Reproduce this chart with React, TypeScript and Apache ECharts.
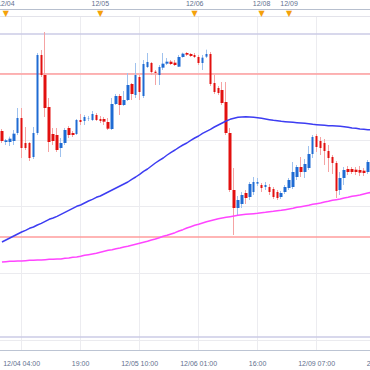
import React, { useEffect, useRef } from 'react';
import * as echarts from 'echarts';

// Trading sessions shown on the chart (hourly candles)
const sessions = [
  { date: '12/03', from: 23, to: 23 },
  { date: '12/04', from: 0, to: 23 },
  { date: '12/05', from: 0, to: 23 },
  { date: '12/06', from: 0, to: 16 },
  { date: '12/08', from: 17, to: 23 },
  { date: '12/09', from: 0, to: 22 },
];

const open = [
  102.627, 102.594, 102.594, 102.597, 102.621, 102.666, 102.591, 102.591, 102.549, 102.621,
  102.855, 102.795, 102.699, 102.618, 102.615, 102.576, 102.591, 102.636, 102.621, 102.618,
  102.660, 102.657, 102.663, 102.660, 102.675, 102.663, 102.663, 102.654, 102.633, 102.708,
  102.732, 102.705, 102.720, 102.768, 102.735, 102.789, 102.732, 102.819, 102.831, 102.805,
  102.795, 102.817, 102.829, 102.835, 102.832, 102.820, 102.849, 102.861, 102.858, 102.855,
  102.849, 102.831, 102.850, 102.858, 102.771, 102.756, 102.750, 102.714, 102.621, 102.450,
  102.396, 102.408, 102.441, 102.429, 102.444, 102.469, 102.465, 102.459, 102.459, 102.453,
  102.444, 102.429, 102.444, 102.456, 102.459, 102.489, 102.519, 102.504, 102.516, 102.558,
  102.612, 102.597, 102.591, 102.567, 102.549, 102.531, 102.450, 102.486, 102.513, 102.513,
  102.511, 102.510, 102.508, 102.504, 102.534, 102.546,
];
const close = [
  102.597, 102.599, 102.604, 102.619, 102.666, 102.576, 102.576, 102.546, 102.621, 102.855,
  102.795, 102.696, 102.594, 102.597, 102.570, 102.591, 102.630, 102.615, 102.615, 102.660,
  102.654, 102.669, 102.664, 102.678, 102.660, 102.657, 102.655, 102.634, 102.708, 102.732,
  102.705, 102.720, 102.765, 102.738, 102.795, 102.744, 102.828, 102.834, 102.804, 102.801,
  102.819, 102.829, 102.835, 102.828, 102.825, 102.849, 102.859, 102.856, 102.852, 102.849,
  102.831, 102.847, 102.858, 102.768, 102.744, 102.741, 102.711, 102.621, 102.450, 102.396,
  102.420, 102.435, 102.426, 102.468, 102.474, 102.474, 102.456, 102.465, 102.444, 102.429,
  102.426, 102.441, 102.459, 102.480, 102.504, 102.519, 102.504, 102.528, 102.558, 102.609,
  102.579, 102.576, 102.567, 102.546, 102.531, 102.447, 102.486, 102.510, 102.504, 102.504,
  102.504, 102.502, 102.501, 102.534, 102.546, 102.540,
];
const low = [
  102.591, 102.585, 102.582, 102.585, 102.615, 102.546, 102.570, 102.537, 102.543, 102.615,
  102.789, 102.669, 102.564, 102.585, 102.564, 102.549, 102.585, 102.606, 102.609, 102.615,
  102.645, 102.645, 102.657, 102.657, 102.657, 102.651, 102.645, 102.630, 102.630, 102.705,
  102.675, 102.702, 102.717, 102.720, 102.726, 102.720, 102.726, 102.816, 102.795, 102.765,
  102.765, 102.810, 102.825, 102.825, 102.822, 102.819, 102.847, 102.852, 102.849, 102.846,
  102.825, 102.810, 102.846, 102.762, 102.738, 102.735, 102.705, 102.615, 102.444, 102.315,
  102.372, 102.396, 102.408, 102.420, 102.435, 102.462, 102.444, 102.450, 102.435, 102.423,
  102.420, 102.423, 102.438, 102.450, 102.453, 102.480, 102.489, 102.486, 102.510, 102.546,
  102.564, 102.555, 102.525, 102.504, 102.498, 102.426, 102.435, 102.465, 102.495, 102.498,
  102.495, 102.492, 102.492, 102.498, 102.525, 102.531,
];
const high = [
  102.633, 102.603, 102.610, 102.630, 102.696, 102.696, 102.639, 102.594, 102.639, 102.861,
  102.870, 102.924, 102.726, 102.636, 102.636, 102.606, 102.636, 102.642, 102.627, 102.663,
  102.678, 102.675, 102.672, 102.687, 102.681, 102.672, 102.669, 102.666, 102.726, 102.738,
  102.738, 102.747, 102.801, 102.771, 102.831, 102.795, 102.840, 102.861, 102.834, 102.810,
  102.825, 102.861, 102.846, 102.840, 102.840, 102.855, 102.862, 102.864, 102.861, 102.861,
  102.855, 102.855, 102.871, 102.864, 102.795, 102.762, 102.774, 102.774, 102.636, 102.516,
  102.432, 102.444, 102.450, 102.474, 102.489, 102.486, 102.471, 102.474, 102.468, 102.459,
  102.450, 102.447, 102.465, 102.486, 102.534, 102.525, 102.549, 102.543, 102.582, 102.615,
  102.618, 102.609, 102.603, 102.585, 102.555, 102.537, 102.504, 102.519, 102.522, 102.519,
  102.519, 102.522, 102.516, 102.540, 102.555, 102.558,
];

const maBlue = [
  102.294, 102.300, 102.306, 102.312, 102.318, 102.324, 102.329, 102.335, 102.339, 102.345,
  102.350, 102.356, 102.362, 102.366, 102.371, 102.377, 102.383, 102.389, 102.395, 102.401,
  102.405, 102.411, 102.417, 102.422, 102.428, 102.432, 102.438, 102.444, 102.450, 102.456,
  102.462, 102.468, 102.474, 102.482, 102.489, 102.497, 102.506, 102.513, 102.522, 102.531,
  102.539, 102.546, 102.555, 102.563, 102.570, 102.578, 102.585, 102.591, 102.599, 102.606,
  102.612, 102.620, 102.626, 102.632, 102.639, 102.645, 102.651, 102.657, 102.662, 102.665,
  102.668, 102.669, 102.670, 102.669, 102.668, 102.667, 102.665, 102.663, 102.661, 102.659,
  102.658, 102.656, 102.655, 102.654, 102.653, 102.652, 102.651, 102.650, 102.649, 102.647,
  102.646, 102.645, 102.644, 102.643, 102.643, 102.642, 102.641, 102.640, 102.638, 102.636,
  102.635, 102.633, 102.632, 102.631, 102.630, 102.629,
];
const maMagenta = [
  102.234, 102.235, 102.236, 102.236, 102.237, 102.237, 102.238, 102.239, 102.239, 102.240,
  102.240, 102.241, 102.242, 102.242, 102.243, 102.243, 102.245, 102.246, 102.248, 102.249,
  102.251, 102.254, 102.256, 102.258, 102.260, 102.263, 102.266, 102.269, 102.271, 102.274,
  102.276, 102.279, 102.281, 102.284, 102.287, 102.290, 102.293, 102.296, 102.300, 102.303,
  102.307, 102.311, 102.314, 102.318, 102.322, 102.327, 102.331, 102.336, 102.340, 102.344,
  102.347, 102.351, 102.355, 102.358, 102.361, 102.364, 102.366, 102.368, 102.370, 102.372,
  102.374, 102.376, 102.377, 102.378, 102.379, 102.380, 102.382, 102.383, 102.385, 102.386,
  102.388, 102.389, 102.391, 102.393, 102.395, 102.398, 102.400, 102.402, 102.404, 102.407,
  102.409, 102.411, 102.414, 102.416, 102.419, 102.421, 102.423, 102.426, 102.428, 102.431,
  102.433, 102.435, 102.438, 102.441, 102.443, 102.446,
];

const gridLevels = [102.0, 102.2, 102.4, 102.6, 102.8];
const rangeLevels = [102.924, 102.014];
const redLevels = [102.797, 102.315];

const Y_MIN = 101.97;
const Y_MAX = 102.972;
const LABEL_START = 5;
const LABEL_STEP = 15;

const categories: string[] = [];
sessions.forEach((s) => {
  for (let h = s.from; h <= s.to; h++) {
    categories.push(`${s.date} ${String(h).padStart(2, '0')}:00`);
  }
});
const dateOf = (i: number) => categories[i].split(' ')[0];
const isMajor = (i: number) => i >= LABEL_START && (i - LABEL_START) % LABEL_STEP === 0;
const isMinor = (i: number) => ((((i - LABEL_START) % LABEL_STEP) + LABEL_STEP) % LABEL_STEP) % 2 === 0;
const isDayStart = (i: number) => i > 0 && dateOf(i) !== dateOf(i - 1);
const sinceDay: number[] = [];
categories.forEach((_, i) => {
  sinceDay.push(i === 0 ? 1 : isDayStart(i) ? 0 : sinceDay[i - 1] + 1);
});
const isTopTick = (i: number) => sinceDay[i] % 3 === 0;

const bottomLabels: Record<number, string> = {};
let prevDate = '';
categories.forEach((c, i) => {
  if (isMajor(i)) {
    const [d, t] = c.split(' ');
    bottomLabels[i] = d !== prevDate ? c : t;
    prevDate = d;
  }
});

const UP = '#1f6bd3';
const DOWN = '#e2100f';
const WICK_UP = '#9fc2ee';
const WICK_DOWN = '#f5a3a3';
const TEXT = '#62708e';
const FONT = 'Liberation Sans';

export default function App() {
  const ref = useRef<HTMLDivElement>(null);
  useEffect(() => {
    if (!ref.current) return;
    const chart = echarts.init(ref.current, null, { renderer: 'svg' });
    const wickData = categories.map((_, i) => [open[i], close[i], low[i], high[i]]);
    const bodyData = categories.map((_, i) => [
      open[i], close[i], Math.min(open[i], close[i]), Math.max(open[i], close[i]),
    ]);
    const gridGeom = { left: 0, top: 16, width: 377.6, height: 334, outerBoundsMode: 'none' };
    const yAx = (gi: number) => ({
      type: 'value', gridIndex: gi, min: Y_MIN, max: Y_MAX, show: false, splitLine: { show: false },
    });
    const baseX = { type: 'category', data: categories, boundaryGap: true };
    const option: any = {
      animation: false,
      textStyle: { fontFamily: FONT },
      grid: [gridGeom, gridGeom, gridGeom],
      xAxis: [
        {
          ...baseX, gridIndex: 0, position: 'bottom',
          axisLine: { lineStyle: { color: '#bcc4d3', width: 1 } },
          axisTick: { interval: isMajor, length: 6, alignWithLabel: true, lineStyle: { color: '#aab2c4' } },
          axisLabel: {
            interval: isMajor, formatter: (_v: string, i: number) => bottomLabels[i] ?? '',
            fontSize: 7, color: TEXT, margin: 10, fontFamily: FONT,
          },
          splitLine: { show: true, interval: isMajor, alignWithLabel: true, lineStyle: { color: '#ececf0', width: 1 } },
        },
        {
          ...baseX, gridIndex: 0, position: 'top',
          axisLine: { lineStyle: { color: '#e3e3ea', width: 1 } },
          axisTick: { show: false }, axisLabel: { show: false },
        },
        {
          ...baseX, gridIndex: 1, position: 'bottom',
          axisLine: { show: false },
          axisTick: { interval: isMinor, length: 3, alignWithLabel: true, lineStyle: { color: '#aab2c4' } },
          axisLabel: { show: false },
        },
        {
          ...baseX, gridIndex: 1, position: 'top', offset: 7,
          axisLine: { lineStyle: { color: '#b7bfce', width: 1 } },
          axisTick: { interval: isTopTick, inside: true, length: 3, alignWithLabel: true, lineStyle: { color: '#aab2c4' } },
          axisLabel: {
            interval: (i: number) => isDayStart(i), formatter: (v: string) => v.split(' ')[0],
            fontSize: 7, color: TEXT, margin: 2, fontFamily: FONT,
          },
        },
        {
          ...baseX, gridIndex: 2, position: 'top', offset: 7,
          axisLine: { show: false }, axisTick: { show: false },
          axisLabel: {
            inside: true, interval: (i: number) => isDayStart(i), formatter: () => '▼',
            fontSize: 8, color: '#f4a10a', margin: 0, fontFamily: 'DejaVu Sans',
          },
        },
      ],
      yAxis: [yAx(0), yAx(1), yAx(2)],
      series: [
        {
          type: 'candlestick', name: 'wick', xAxisIndex: 0, yAxisIndex: 0, data: wickData,
          barWidth: 1, silent: true, z: 2,
          itemStyle: { color: WICK_UP, color0: WICK_DOWN, borderColor: WICK_UP, borderColor0: WICK_DOWN, borderWidth: 1 },
          markLine: {
            silent: true, symbol: ['none', 'none'], label: { show: false }, z: 1, animation: false,
            data: [
              ...gridLevels.map((v) => ({ yAxis: v, lineStyle: { color: '#ebebef', width: 1, type: 'solid' } })),
              ...rangeLevels.map((v) => ({ yAxis: v, lineStyle: { color: '#cbcbe6', width: 1.5, type: 'solid' } })),
              ...redLevels.map((v) => ({ yAxis: v, lineStyle: { color: '#ff9c9c', width: 1.5, type: 'solid' } })),
            ],
          },
        },
        {
          type: 'candlestick', name: 'body', xAxisIndex: 0, yAxisIndex: 0, data: bodyData,
          barWidth: 3, silent: true, z: 3,
          itemStyle: { color: UP, color0: DOWN, borderColor: UP, borderColor0: DOWN, borderWidth: 0 },
        },
        {
          type: 'line', name: 'MA long', xAxisIndex: 0, yAxisIndex: 0, data: maMagenta,
          showSymbol: false, symbol: 'none', silent: true, z: 4,
          lineStyle: { color: '#ff45ff', width: 1.5 },
        },
        {
          type: 'line', name: 'MA', xAxisIndex: 0, yAxisIndex: 0, data: maBlue,
          showSymbol: false, symbol: 'none', silent: true, z: 4,
          lineStyle: { color: '#3d3df2', width: 1.5 },
        },
      ],
    };
    chart.setOption(option);
    return () => chart.dispose();
  }, []);
  return (
    <div
      ref={ref}
      style={{ position: 'fixed', left: 0, top: 0, width: 370, height: 370, background: '#ffffff', overflow: 'hidden' }}
    />
  );
}
